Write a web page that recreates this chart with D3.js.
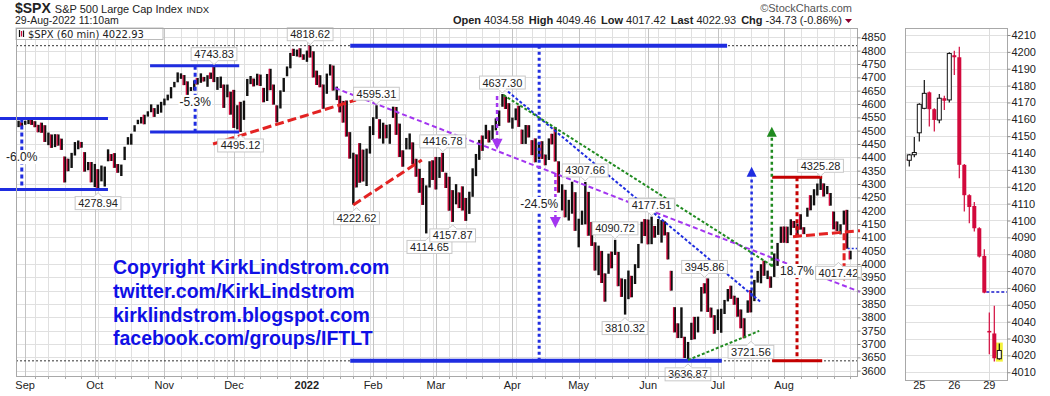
<!DOCTYPE html>
<html><head><meta charset="utf-8">
<script src="https://cdn.jsdelivr.net/npm/d3@7"></script>
<style>
body{margin:0;background:#fff}
svg{display:block}
text{font-family:Arial,"Liberation Sans",sans-serif;fill:#222}
</style></head>
<body><svg id="c" width="1050" height="396"></svg>
<script>
// ---------------- DATA ----------------
const holidays=["2021-09-06","2021-11-25","2021-12-24","2022-01-17","2022-02-21","2022-04-15","2022-05-30","2022-06-20","2022-07-04"];
const monthLabels=["Sep","Oct","Nov","Dec","2022","Feb","Mar","Apr","May","Jun","Jul","Aug"];
const mainTicks=[3600,3650,3700,3750,3800,3850,3900,3950,4000,4050,4100,4150,4200,4250,4300,4350,4400,4450,4500,4550,4600,4650,4700,4750,4800,4850];
const closes=[4528.79,4522.68,
4524.09,4536.95,4535.43,4520.03,4514.07,4493.28,4458.58,4468.73,4443.05,4480.70,4473.75,4432.99,4357.73,4354.19,4395.64,4448.98,4455.48,4443.11,4352.63,4359.46,4307.54,
4357.04,4300.46,4345.72,4363.55,4399.76,4391.34,4361.19,4350.65,4363.80,4438.26,4471.37,4486.46,4519.63,4536.19,4549.78,4544.90,4566.48,4574.79,4551.68,4596.42,4605.38,
4613.67,4630.65,4660.57,4680.06,4697.53,4701.70,4685.25,4646.71,4649.27,4682.85,4682.80,4700.90,4688.67,4704.54,4697.96,4682.94,4690.70,4701.46,4594.62,4655.27,4567.00,
4513.04,4577.10,4538.43,4591.67,4686.75,4701.21,4667.45,4712.02,4668.97,4634.09,4709.85,4668.67,4620.64,4568.02,4649.23,4696.56,4725.79,4791.19,4786.35,4793.06,4778.73,4766.18,
4796.56,4793.54,4700.58,4696.05,4677.03,4670.29,4713.07,4726.35,4659.03,4662.85,4577.11,4532.76,4482.73,4397.94,4410.13,4356.45,4349.93,4326.51,4431.85,4515.55,
4546.54,4589.38,4477.44,4500.53,4483.87,4521.54,4587.18,4504.08,4418.64,4401.67,4471.07,4475.01,4380.26,4348.87,4304.76,4225.50,4288.70,4384.65,4373.94,
4306.26,4386.54,4363.49,4328.87,4201.09,4170.70,4277.88,4259.52,4204.31,4173.11,4262.45,4357.86,4411.67,4463.12,4461.18,4511.61,4456.24,4520.16,4543.06,4575.52,4631.60,4602.45,4530.41,
4545.86,4582.64,4525.12,4481.15,4500.21,4488.28,4412.53,4397.45,4446.59,4392.59,4391.69,4462.21,4459.45,4393.66,4271.78,4296.12,4175.20,4183.96,4287.50,4131.93,
4155.38,4175.48,4300.17,4146.87,4123.34,3991.24,4001.05,3935.18,3930.08,4023.89,4008.01,4088.85,3923.68,3900.79,3901.36,3973.75,3941.48,3978.73,4057.84,4158.24,4132.15,
4101.23,4176.82,4108.54,4121.43,4160.68,4115.77,4017.82,3900.86,3749.63,3735.48,3789.99,3666.77,3674.84,3764.79,3759.89,3795.73,3911.74,3900.11,3821.55,3818.83,3785.38,
3825.33,3831.39,3845.08,3902.62,3899.38,3854.43,3818.80,3801.78,3790.38,3863.16,3830.85,3936.69,3959.90,3998.95,3961.63,3966.84,3921.05,4023.61,4072.43,4130.29,
4118.63,4091.19,4155.17,4151.94,4145.19,4140.06,4122.47,4210.24,4207.27,4280.15,4297.14,4305.20,4274.04,4283.74,4228.48,4137.99,4128.73,4140.77,4199.12,4057.66,4022.93];
const highs=[4537.36,4531.39,
4537.11,4545.85,4541.45,4535.43,4521.79,4529.90,4520.47,4492.81,4485.68,4486.87,4485.87,4469.99,4402.95,4394.87,4416.75,4457.30,4463.12,4457.66,4419.54,4382.55,4382.44,
4375.19,4355.51,4369.23,4365.57,4429.97,4412.25,4415.88,4374.89,4372.87,4439.73,4475.82,4488.75,4520.40,4540.87,4551.44,4559.67,4572.62,4598.53,4584.57,4597.55,4608.08,
4620.34,4635.15,4663.46,4683.00,4718.50,4714.92,4708.53,4684.85,4663.46,4688.47,4697.42,4714.95,4701.50,4707.95,4717.75,4743.83,4701.19,4702.87,4672.95,4672.95,4646.02,
4652.94,4595.46,4608.03,4612.60,4694.04,4705.06,4695.26,4713.57,4710.30,4660.47,4712.60,4731.99,4672.87,4594.90,4651.14,4697.67,4740.74,4791.49,4807.02,4804.06,4808.93,4786.29,
4800.27,4818.62,4797.70,4725.01,4707.95,4673.02,4714.09,4748.83,4744.13,4665.13,4631.24,4611.55,4612.99,4494.52,4417.35,4411.01,4453.23,4428.74,4432.72,4516.89,
4550.49,4595.31,4542.88,4529.89,4521.87,4524.00,4590.03,4588.92,4526.33,4426.22,4472.77,4489.55,4456.06,4394.60,4356.96,4322.54,4294.73,4385.34,4388.84,
4401.48,4401.11,4416.78,4342.12,4327.01,4276.94,4299.40,4268.28,4291.14,4247.57,4271.05,4358.90,4412.67,4465.40,4481.75,4522.00,4501.07,4520.58,4546.03,4575.65,4637.30,4627.77,4603.07,
4549.00,4583.50,4593.45,4503.94,4521.16,4520.58,4464.35,4471.00,4453.92,4460.46,4410.41,4471.01,4488.29,4512.94,4385.12,4299.02,4278.14,4240.71,4308.45,4269.21,
4169.81,4200.10,4307.66,4270.43,4157.69,4081.27,4068.82,4049.09,3964.80,4038.88,4046.46,4090.72,4045.32,3945.96,3943.08,3975.48,3955.68,3999.33,4075.14,4158.49,4168.34,
4166.54,4177.51,4142.67,4168.78,4164.86,4160.14,4119.10,3974.39,3838.15,3777.54,3837.56,3727.06,3707.71,3779.65,3801.79,3802.58,3913.65,3927.72,3945.86,3836.50,3808.12,
3829.82,3832.19,3865.21,3906.21,3918.50,3880.94,3873.41,3829.44,3796.61,3863.62,3902.44,3940.26,3974.13,3999.29,4012.44,3975.30,3953.22,4039.56,4078.95,4140.15,
4140.47,4140.04,4167.66,4161.29,4151.58,4186.62,4137.95,4211.03,4257.91,4280.47,4301.79,4325.28,4302.18,4292.53,4266.31,4196.73,4159.40,4149.10,4200.28,4203.04,4049.46];
const lows=[4513.33,4515.80,
4522.02,4524.66,4521.65,4513.00,4493.95,4492.07,4457.66,4445.70,4435.46,4438.37,4443.80,4427.76,4305.91,4347.96,4360.19,4406.75,4430.27,4436.19,4346.33,4351.69,4306.24,
4288.52,4278.94,4309.87,4290.49,4385.10,4386.22,4360.59,4342.09,4329.92,4389.82,4447.69,4447.47,4496.41,4524.40,4526.89,4524.00,4552.80,4569.17,4551.66,4562.84,4567.59,
4595.06,4613.67,4621.19,4662.59,4681.32,4694.39,4670.87,4630.86,4648.87,4650.77,4672.86,4679.42,4684.41,4664.45,4694.22,4682.17,4652.94,4659.89,4585.43,4625.26,4560.00,
4510.27,4504.73,4495.12,4540.51,4630.00,4674.52,4665.98,4670.24,4667.60,4606.52,4611.22,4651.89,4597.59,4531.10,4583.16,4645.53,4703.96,4733.99,4780.04,4778.08,4775.33,4765.75,
4758.17,4774.27,4699.44,4671.26,4662.74,4582.24,4638.27,4706.80,4650.29,4614.75,4568.70,4530.20,4477.84,4395.34,4222.62,4287.11,4304.80,4309.50,4292.46,4414.02,
4483.53,4544.32,4470.39,4451.50,4471.47,4450.74,4547.96,4484.31,4401.41,4364.84,4429.68,4429.68,4373.81,4327.22,4267.11,4221.51,4114.65,4286.83,4315.12,
4279.54,4322.80,4345.56,4284.98,4199.85,4157.87,4223.80,4209.80,4200.49,4161.72,4187.90,4251.99,4329.36,4390.57,4424.30,4469.10,4455.81,4465.17,4501.07,4517.69,4589.66,4581.32,4530.41,
4507.57,4539.21,4514.17,4450.04,4450.30,4474.60,4408.38,4381.34,4392.70,4394.07,4370.30,4390.13,4448.76,4384.47,4267.62,4200.82,4175.04,4162.90,4188.63,4124.28,
4062.51,4147.08,4148.91,4106.01,4067.91,3975.48,3958.17,3928.82,3858.87,3963.20,3983.99,4033.93,3916.71,3876.58,3810.32,3868.15,3875.13,3925.03,3984.60,4077.43,4104.88,
4073.85,4074.37,4098.67,4109.18,4080.19,4107.20,4017.17,3900.16,3743.59,3722.30,3722.30,3647.51,3636.87,3715.31,3717.69,3743.52,3821.75,3889.66,3820.14,3799.02,3738.67,
3752.10,3742.06,3812.51,3859.73,3869.34,3847.22,3802.36,3759.07,3721.56,3817.18,3818.63,3860.73,3930.31,3927.64,3955.77,3943.46,3910.74,3951.43,3992.97,4079.22,
4079.81,4078.48,4107.97,4135.42,4107.31,4128.97,4112.09,4177.26,4201.41,4219.78,4256.90,4277.77,4253.08,4261.98,4218.70,4130.19,4124.03,4111.08,4147.59,4057.66,4017.42];

// price labels: [dayIndex, price, text, side]
const priceLabels=[
 [24,4278.94,"4278.94","below"],[59,4743.83,"4743.83","above"],[67,4495.12,"4495.12","below"],
 [88,4818.62,"4818.62","above"],[102,4222.62,"4222.62","below"],[108,4595.31,"4595.31","above"],
 [124,4114.65,"4114.65","below"],[128,4416.78,"4416.78","above"],[131,4157.87,"4157.87","below"],
 [146,4637.30,"4637.30","above"],[171,4307.66,"4307.66","above"],[180,4090.72,"4090.72","above"],
 [183,3810.32,"3810.32","below"],[191,4177.51,"4177.51","above"],[202,3636.87,"3636.87","below"],
 [207,3945.86,"3945.86","above"],[221,3721.56,"3721.56","below"],[242,4325.28,"4325.28","above"],
 [247.4,4017.42,"4017.42","below"]];

// range measurements: [dayStart, dayEnd, topPrice, bottomPrice, dayVertical, text, textPrice]
const blueRanges=[[-5.6,27.0,4545.85,4278.94,1.0,"-6.0%",4401],[39.7,66.6,4743.83,4495.12,53.3,"-5.3%",4608]];
const bigRange=[100.1,213.8,4818.62,3636.87,157.1,"-24.5%",4225];
const redRange=[227.4,242.5,4325.28,3636.87,234.9,"18.7%",3974];
// trend lines: [[day0,price0],[day1,price1]]
const redSupport1=[[58.7,4450],[101.8,4615]];
const redSupport2=[[101.0,4221.5],[121.7,4390.3]];
const purpleTrend=[[95.5,4660],[253.9,3895.3]];
const blueTrend=[[147.7,4646.4],[223.8,3859]];
const greenTrend=[[146.3,4634],[227.8,3990]];
const greenSupport=[[202,3640],[223.5,3749]];
const neckline=[[233.7,4102.6],[253.9,4125]];
// arrows: [day, fromPrice, tipPrice]
const purpleArrows=[[144.4,4630,4428],[162.0,4341,4135]];
const blueArrow=[221.2,3878,4365];
const greenArrow=[227.3,3990,4515];
const redArrow=[249.1,4115,3934];
const priorClose=4057.66;

// 60-min candles of the last days: open, high, low, close
const cOpen =[4136.5,4135.7,4139.0,4152.0,4166.5,4176.0,4166.0,4159.6,4172.5,4171.5,4198.0,4196.8,4133.0,4115.0,4108.6,4095.4,4079.0,4034.5,4033.0,4018.0];
const cHigh =[4137.0,4139.5,4149.5,4169.5,4183.3,4176.5,4166.5,4175.0,4174.0,4199.7,4200.7,4203.0,4133.5,4115.5,4111.0,4096.0,4083.0,4045.5,4049.4,4027.0];
const cLow  =[4135.0,4132.0,4137.5,4146.8,4166.0,4155.7,4152.7,4157.6,4165.5,4170.0,4186.3,4125.0,4105.3,4098.3,4093.4,4078.0,4056.8,4020.7,4016.4,4017.4];
const cClose=[4135.6,4138.9,4140.3,4168.9,4175.4,4166.0,4159.6,4172.5,4171.0,4199.0,4196.8,4133.0,4115.0,4108.0,4095.4,4078.6,4057.2,4033.6,4018.3,4022.9];
const dayLabels=["25","26","29"];
const dayStartCandle=[3,10,17];
const sideTicks=[4010,4020,4030,4040,4050,4060,4070,4080,4090,4100,4110,4120,4130,4140,4150,4160,4170,4180,4190,4200,4210];
const copyrightLines=["Copyright KirkLindstrom.com","twitter.com/KirkLindstrom","kirklindstrom.blogspot.com","facebook.com/groups/IFTLT"];

// ---------------- CALENDAR ----------------
const tradingDays=[];
for(let t=Date.UTC(2021,7,30);t<=Date.UTC(2022,7,29);t+=86400000){
  const d=new Date(t),wd=d.getUTCDay(),s=d.toISOString().slice(0,10);
  if(wd!==0&&wd!==6&&!holidays.includes(s)) tradingDays.push(s);
}
const monthStarts=[],weekStarts=[];
tradingDays.forEach((s,i)=>{
  if(i===0) return;
  if(s.slice(5,7)!==tradingDays[i-1].slice(5,7)) monthStarts.push(i);
  if(new Date(s).getUTCDay()<new Date(tradingDays[i-1]).getUTCDay()) weekStarts.push(i);
});

// ---------------- CHART ----------------
const svg=d3.select("#c");
const L=16,R=857,T=28,B=376;
const x=d3.scaleLinear().domain([-0.75,253]).range([L,R]);
const y=d3.scaleLinear().domain([3580,4885]).range([B,T]);
const RED="#d2093c",BLUE="#1f2de0",PURPLE="#a335f0",GREEN="#1f8a1f",LRED="#e32222",DRED="#c40000";

svg.append("defs").append("clipPath").attr("id","pc").append("rect").attr("x",L).attr("y",T).attr("width",R-L).attr("height",B-T);

// header
const hd=svg.append("g");
const t1=hd.append("text").attr("x",15).attr("y",13);
t1.append("tspan").attr("font-weight","bold").attr("font-size",14).text("$SPX");
t1.append("tspan").attr("font-size",11).attr("dx",4).text("S&P 500 Large Cap Index");
t1.append("tspan").attr("font-size",9.5).attr("dx",4).text("INDX");
hd.append("text").attr("x",15).attr("y",24).attr("font-size",10.5).text("29-Aug-2022 11:10am");
hd.append("text").attr("x",852).attr("y",12).attr("text-anchor","end").attr("font-size",11).style("fill","#555").text("\u00A9StockCharts.com");
const t2=hd.append("text").attr("x",842).attr("y",24).attr("text-anchor","end").attr("font-size",11);
[["Open","4034.58"],["High","4049.46"],["Low","4017.42"],["Last","4022.93"],["Chg","-34.73 (-0.86%)"]].forEach((p,i)=>{
  t2.append("tspan").attr("font-weight","bold").attr("dx",i?5:0).text(p[0]);
  t2.append("tspan").attr("dx",3).text(p[1]);
});
hd.append("path").attr("d","M845,19 L852,19 L848.5,23 Z").attr("fill","#8b0030");

// grid
const grid=svg.append("g").attr("clip-path","url(#pc)");
grid.selectAll(".hg").data(mainTicks).join("line").attr("x1",L).attr("x2",R)
  .attr("y1",d=>Math.round(y(d))+0.5).attr("y2",d=>Math.round(y(d))+0.5).attr("stroke","#e0e0e0");
grid.selectAll(".wg").data(weekStarts).join("line").attr("y1",T).attr("y2",B)
  .attr("x1",d=>Math.round(x(d))+0.5).attr("x2",d=>Math.round(x(d))+0.5).attr("stroke","#e0e0e0");
grid.selectAll(".mg").data(monthStarts).join("line").attr("y1",T).attr("y2",B)
  .attr("x1",d=>Math.round(x(d))+0.5).attr("x2",d=>Math.round(x(d))+0.5).attr("stroke","#c4c4c4");

// copyright
const cg=svg.append("g");
copyrightLines.forEach((s,i)=>cg.append("text").attr("x",113).attr("y",274+i*23.8)
  .attr("font-size",19.5).attr("font-weight","bold").style("fill","#1010e6").text(s));

// dotted extremes
[4818.62,3636.87].forEach(p=>svg.append("line").attr("x1",L).attr("x2",R).attr("y1",y(p)).attr("y2",y(p))
  .attr("stroke","#333").attr("stroke-dasharray","2,2"));

// price bars (black range bar with red accent on down days)
const bars=svg.append("g").attr("clip-path","url(#pc)");
bars.selectAll(".b").data(closes).join("rect")
  .attr("x",(d,i)=>x(i)-1.1).attr("width",2.4)
  .attr("y",(d,i)=>y(highs[i])).attr("height",(d,i)=>Math.max(1.2,y(lows[i])-y(highs[i])))
  .attr("fill","#111");
bars.selectAll(".r").data(closes.map((d,i)=>i).filter(i=>i>0&&closes[i]<closes[i-1])).join("rect")
  .attr("x",i=>x(i)-1.8).attr("width",1.3)
  .attr("y",i=>y(highs[i])).attr("height",i=>Math.max(1.2,y(lows[i])-y(highs[i])))
  .attr("fill",RED);

// annotations
const an=svg.append("g");
function seg(g,x1,y1,x2,y2,col,w,dash){g.append("line").attr("x1",x1).attr("y1",y1).attr("x2",x2).attr("y2",y2)
  .attr("stroke",col).attr("stroke-width",w).attr("stroke-dasharray",dash||null);}
function trend(pts,col,w,dash){seg(an,x(pts[0][0]),y(pts[0][1]),x(pts[1][0]),y(pts[1][1]),col,w,dash);}
function pctText(i,p,txt){
  const g=an.append("g");
  const t=g.append("text").attr("x",x(i)).attr("y",y(p)+4).attr("text-anchor","middle").attr("font-size",12).text(txt);
  const bb=t.node().getBBox();
  g.insert("rect","text").attr("x",bb.x-1).attr("y",bb.y).attr("width",bb.width+2).attr("height",bb.height).attr("fill","#fff");
}
blueRanges.forEach(r=>{
  seg(an,x(r[0]),y(r[2]),x(r[1]),y(r[2]),BLUE,3);
  seg(an,x(r[0]),y(r[3]),x(r[1]),y(r[3]),BLUE,3);
  seg(an,x(r[4]),y(r[2]),x(r[4]),y(r[3]),BLUE,3,"4,3");
  pctText(r[4],r[6],r[5]);
});
seg(an,x(bigRange[0]),y(bigRange[2]),x(bigRange[1]),y(bigRange[2]),BLUE,4);
seg(an,x(bigRange[0]),y(bigRange[3]),x(bigRange[1]-1.6),y(bigRange[3]),BLUE,4);
seg(an,x(bigRange[4]),y(bigRange[2]),x(bigRange[4]),y(bigRange[3]),BLUE,3,"3,3");
seg(an,x(redRange[0]),y(redRange[2]),x(redRange[1]),y(redRange[2]),DRED,3);
seg(an,x(redRange[0]),y(redRange[3]),x(redRange[1]),y(redRange[3]),DRED,3);
seg(an,x(redRange[4]),y(redRange[2]),x(redRange[4]),y(redRange[3]),DRED,3,"4,3");

trend(redSupport1,LRED,3,"9,4");
trend(redSupport2,LRED,3,"9,4");
trend(purpleTrend,PURPLE,2,"5,3");
trend(blueTrend,BLUE,2,"3,2");
trend(greenTrend,GREEN,2,"3,2");
trend(greenSupport,GREEN,2,"3,2");
trend(neckline,LRED,3,"9,4");

function arrow(a,col,w,dash,hw,hh){
  const xx=x(a[0]),y0=y(a[1]),yt=y(a[2]),dir=yt<y0?1:-1; // 1 = up
  seg(an,xx,y0,xx,yt+dir*hh,col,w,dash);
  an.append("path").attr("d",`M${xx-hw/2},${yt+dir*hh} L${xx+hw/2},${yt+dir*hh} L${xx},${yt} Z`).attr("fill",col);
}
purpleArrows.forEach(a=>arrow(a,PURPLE,2.5,"4,3",11,11));
arrow(blueArrow,BLUE,2.5,"3,3",10,10);
arrow(greenArrow,GREEN,2.5,"3,3",10,10);
seg(an,x(250.2),y(priorClose),x(253),y(priorClose),"#2233dd",1.5,"2,2");

// price labels
function priceLabel(l){
  const g=svg.append("g");
  const cx=x(l[0]),py=y(l[1]);
  const t=g.append("text").attr("text-anchor","middle").attr("font-size",11).attr("x",cx).text(l[2]);
  const w=t.node().getComputedTextLength()+6,h=13;
  const top=l[3]==="above"?py-5-h:py+7;
  t.attr("y",top+10.5);
  g.insert("rect","text").attr("x",cx-w/2).attr("y",top).attr("width",w).attr("height",h).attr("fill","#fff").attr("stroke","#c8c8c8");
  const py2=l[3]==="above"?top+h:top;
  const s=l[3]==="above"?1:-1;
  g.insert("path","text").attr("d",`M${cx-4},${py2} L${cx},${py2+s*4} L${cx+4},${py2}`).attr("fill","#fff").attr("stroke","#c8c8c8");
  g.insert("line","text").attr("x1",cx-3.5).attr("x2",cx+3.5).attr("y1",py2).attr("y2",py2).attr("stroke","#fff").attr("stroke-width",1.5);
}
priceLabels.forEach(priceLabel);
pctText(bigRange[4],bigRange[6],bigRange[5]);
pctText(redRange[4],redRange[6],redRange[5]);
arrow(redArrow,LRED,3,"7,3",13,15);

// legend
const lg=svg.append("g");
lg.append("rect").attr("x",L).attr("y",T).attr("width",147).attr("height",11.5).attr("fill","#fff").attr("stroke","#bbb");
[[19.5,"#111",30,37],[21.5,RED,31,36.5],[23.5,"#111",30.5,37]].forEach(v=>
  lg.append("line").attr("x1",v[0]).attr("x2",v[0]).attr("y1",v[2]).attr("y2",v[3]).attr("stroke",v[1]).attr("stroke-width",1.2));
lg.append("text").attr("x",28).attr("y",37.5).attr("font-size",10).style("font-family","'DejaVu Sans',sans-serif").text("$SPX (60 min) 4022.93");

// plot frame & axes
svg.append("rect").attr("x",L+0.5).attr("y",T+0.5).attr("width",R-L).attr("height",B-T).attr("fill","none").attr("stroke","#a8a8a8");
const ra=svg.append("g").attr("transform",`translate(${R+0.5},0)`).call(d3.axisRight(y).tickValues(mainTicks).tickSize(3).tickFormat(d3.format("d")));
ra.select(".domain").remove();
ra.selectAll("line").attr("stroke","#888");
ra.selectAll("text").attr("font-size",11).attr("font-family","Arial,'Liberation Sans',sans-serif").attr("x",4).style("fill","#222");
const ba=svg.append("g");
ba.selectAll("text").data(monthStarts).join("text").attr("x",d=>x(d)).attr("y",389).attr("text-anchor","middle")
  .attr("font-size",11).attr("font-weight",(d,i)=>monthLabels[i]==="2022"?"bold":"normal").text((d,i)=>monthLabels[i]);
ba.selectAll("line").data(weekStarts).join("line").attr("x1",d=>Math.round(x(d))+0.5).attr("x2",d=>Math.round(x(d))+0.5)
  .attr("y1",B).attr("y2",B+3).attr("stroke","#aaa");

// ---------------- SIDE PANEL ----------------
const sL=905,sR=1007;
const sy=d3.scaleLinear().domain([4005.4,4214.15]).range([380,28]);
const sx=d3.scaleLinear().domain([0,19]).range([904.3,999.3]);
svg.append("defs").append("clipPath").attr("id","sc").append("rect").attr("x",sL).attr("y",T).attr("width",sR-sL).attr("height",380-T);
const sp=svg.append("g").attr("clip-path","url(#sc)");
sp.selectAll(".g").data(sideTicks).join("line").attr("x1",sL).attr("x2",sR).attr("y1",d=>Math.round(sy(d))+0.5).attr("y2",d=>Math.round(sy(d))+0.5).attr("stroke","#e0e0e0");
sp.append("line").attr("x1",Math.round(sx(17))+0.5).attr("x2",Math.round(sx(17))+0.5).attr("y1",T).attr("y2",380).attr("stroke","#dcdcdc");
sp.append("rect").attr("x",sx(19)-3.5).attr("y",sy(4027.6)).attr("width",7).attr("height",sy(4016.3)-sy(4027.6)).attr("fill","#f4f23c");
sp.append("line").attr("x1",sx(16.4)).attr("x2",sR).attr("y1",sy(priorClose)).attr("y2",sy(priorClose)).attr("stroke","#1a1acc").attr("stroke-width",1.5).attr("stroke-dasharray","3,2");
cOpen.forEach((o,i)=>{
  const up=cClose[i]>=o,col=up?"#111":RED,cx=sx(i);
  sp.append("line").attr("x1",cx).attr("x2",cx).attr("y1",sy(cHigh[i])).attr("y2",sy(cLow[i])).attr("stroke",col).attr("stroke-width",1.2);
  const top=sy(Math.max(o,cClose[i])),hgt=Math.max(1.2,Math.abs(sy(o)-sy(cClose[i])));
  sp.append("rect").attr("x",cx-2).attr("y",top).attr("width",4).attr("height",hgt)
    .attr("fill",up?"#fff":RED).attr("stroke",up?"#111":"none").attr("stroke-width",1);
});
svg.append("rect").attr("x",sL+0.5).attr("y",T+0.5).attr("width",sR-sL).attr("height",380-T).attr("fill","none").attr("stroke","#a8a8a8");
const sa=svg.append("g").attr("transform",`translate(${sR+0.5},0)`).call(d3.axisRight(sy).tickValues(sideTicks).tickSize(3).tickFormat(d3.format("d")));
sa.select(".domain").remove();
sa.selectAll("line").attr("stroke","#888");
sa.selectAll("text").attr("font-size",11).attr("font-family","Arial,'Liberation Sans',sans-serif").attr("x",4).style("fill","#222");
svg.selectAll(".dl").data(dayStartCandle).join("text").attr("x",d=>sx(d)).attr("y",389).attr("text-anchor","middle").attr("font-size",11).text((d,i)=>dayLabels[i]);
</script></body></html>
